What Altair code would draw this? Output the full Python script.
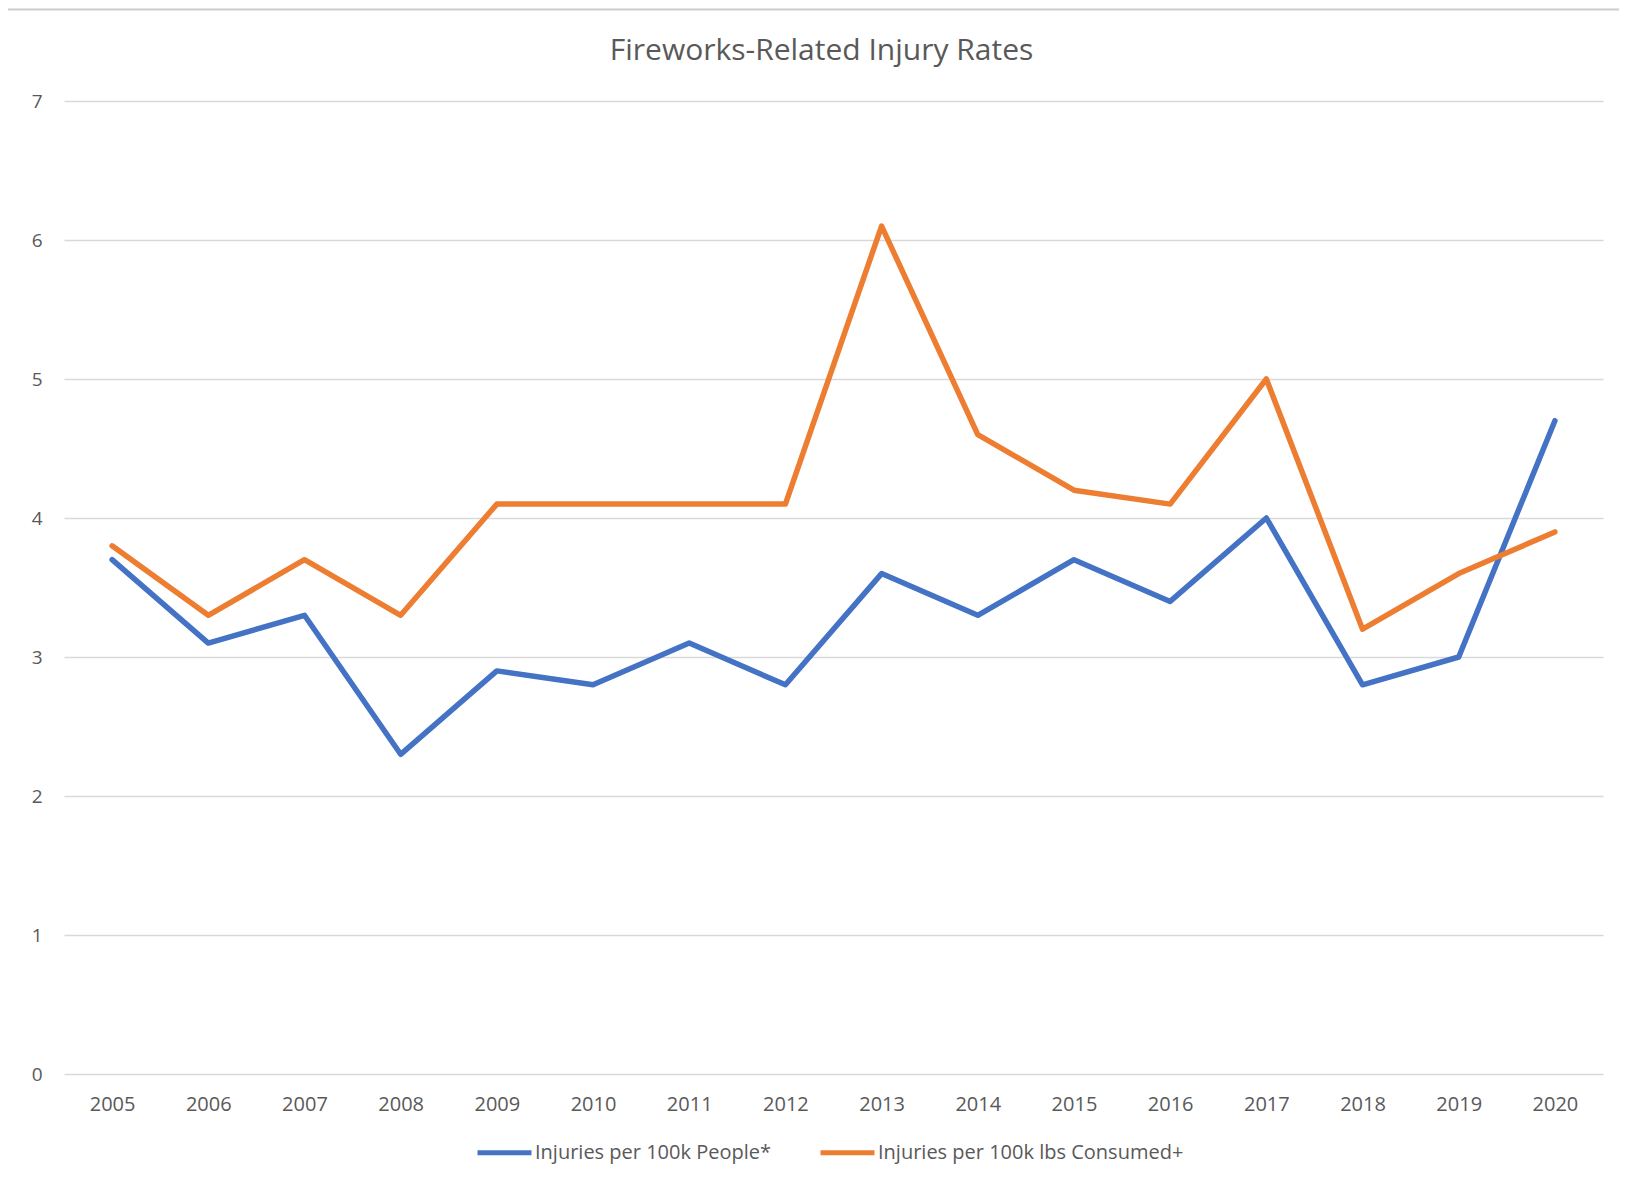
import altair as alt
import pandas as pd

years = [str(y) for y in range(2005, 2021)]
people = [3.7, 3.1, 3.3, 2.3, 2.9, 2.8, 3.1, 2.8, 3.6, 3.3, 3.7, 3.4, 4.0, 2.8, 3.0, 4.7]
lbs = [3.8, 3.3, 3.7, 3.3, 4.1, 4.1, 4.1, 4.1, 6.1, 4.6, 4.2, 4.1, 5.0, 3.2, 3.6, 3.9]
series_names = ["Injuries per 100k People*", "Injuries per 100k lbs Consumed+"]
colors = ["#4472C4", "#ED7D31"]
title_text = "Fireworks-Related Injury Rates"

rows = []
for i, y in enumerate(years):
    rows.append({"year": y, "value": people[i], "series": series_names[0], "order": 0})
    rows.append({"year": y, "value": lbs[i], "series": series_names[1], "order": 1})
df = pd.DataFrame(rows)

FONT = "Open Sans"
GRAY = "#595959"
W, H = 1539, 973

lines = alt.Chart(df).mark_line(strokeWidth=5.5, strokeCap="round", strokeJoin="round").encode(
    x=alt.X("year:O", sort=years,
            scale=alt.Scale(type="point", padding=0.5),
            axis=alt.Axis(title=None, labelAngle=0, ticks=False, domain=False,
                          labelPadding=20, labelFontSize=20, labelColor=GRAY, labelFont=FONT)),
    y=alt.Y("value:Q", scale=alt.Scale(domain=[0, 7], nice=False),
            axis=alt.Axis(title=None, values=[0, 1, 2, 3, 4, 5, 6, 7], ticks=False, domain=False,
                          labelPadding=22, labelFontSize=19, labelColor=GRAY, labelFont=FONT,
                          gridColor="#d9d9d9", gridWidth=1.5)),
    color=alt.Color("series:N", sort=series_names,
                    scale=alt.Scale(domain=series_names, range=colors),
                    legend=alt.Legend(title=None, orient="none", direction="horizontal",
                                      legendX=411, legendY=1022,
                                      symbolType="stroke", symbolSize=2916, symbolStrokeWidth=5,
                                      labelFontSize=20, labelColor=GRAY, labelFont=FONT,
                                      labelLimit=600, labelOffset=1, columnPadding=38)),
    order="order:Q",
)

border = alt.Chart(pd.DataFrame({"a": [0]})).mark_rule(color="#cccccc", strokeWidth=2).encode(
    x=alt.value(-60), x2=alt.value(W + 20), y=alt.value(-91.5)
)

title = alt.Chart(pd.DataFrame({"t": [title_text]})).mark_text(
    font=FONT, fontSize=30, color=GRAY, align="center", baseline="middle"
).encode(text="t:N", x=alt.value(W / 2 - 12), y=alt.value(-50))

chart = alt.layer(border, title, lines).properties(
    width=W, height=H,
    autosize=alt.AutoSizeParams(type="none"),
    padding={"left": 56, "top": 93, "right": 16, "bottom": 110},
).configure_view(stroke=None)

chart.save("out.html", embed_options={"renderer": "svg", "actions": False})
